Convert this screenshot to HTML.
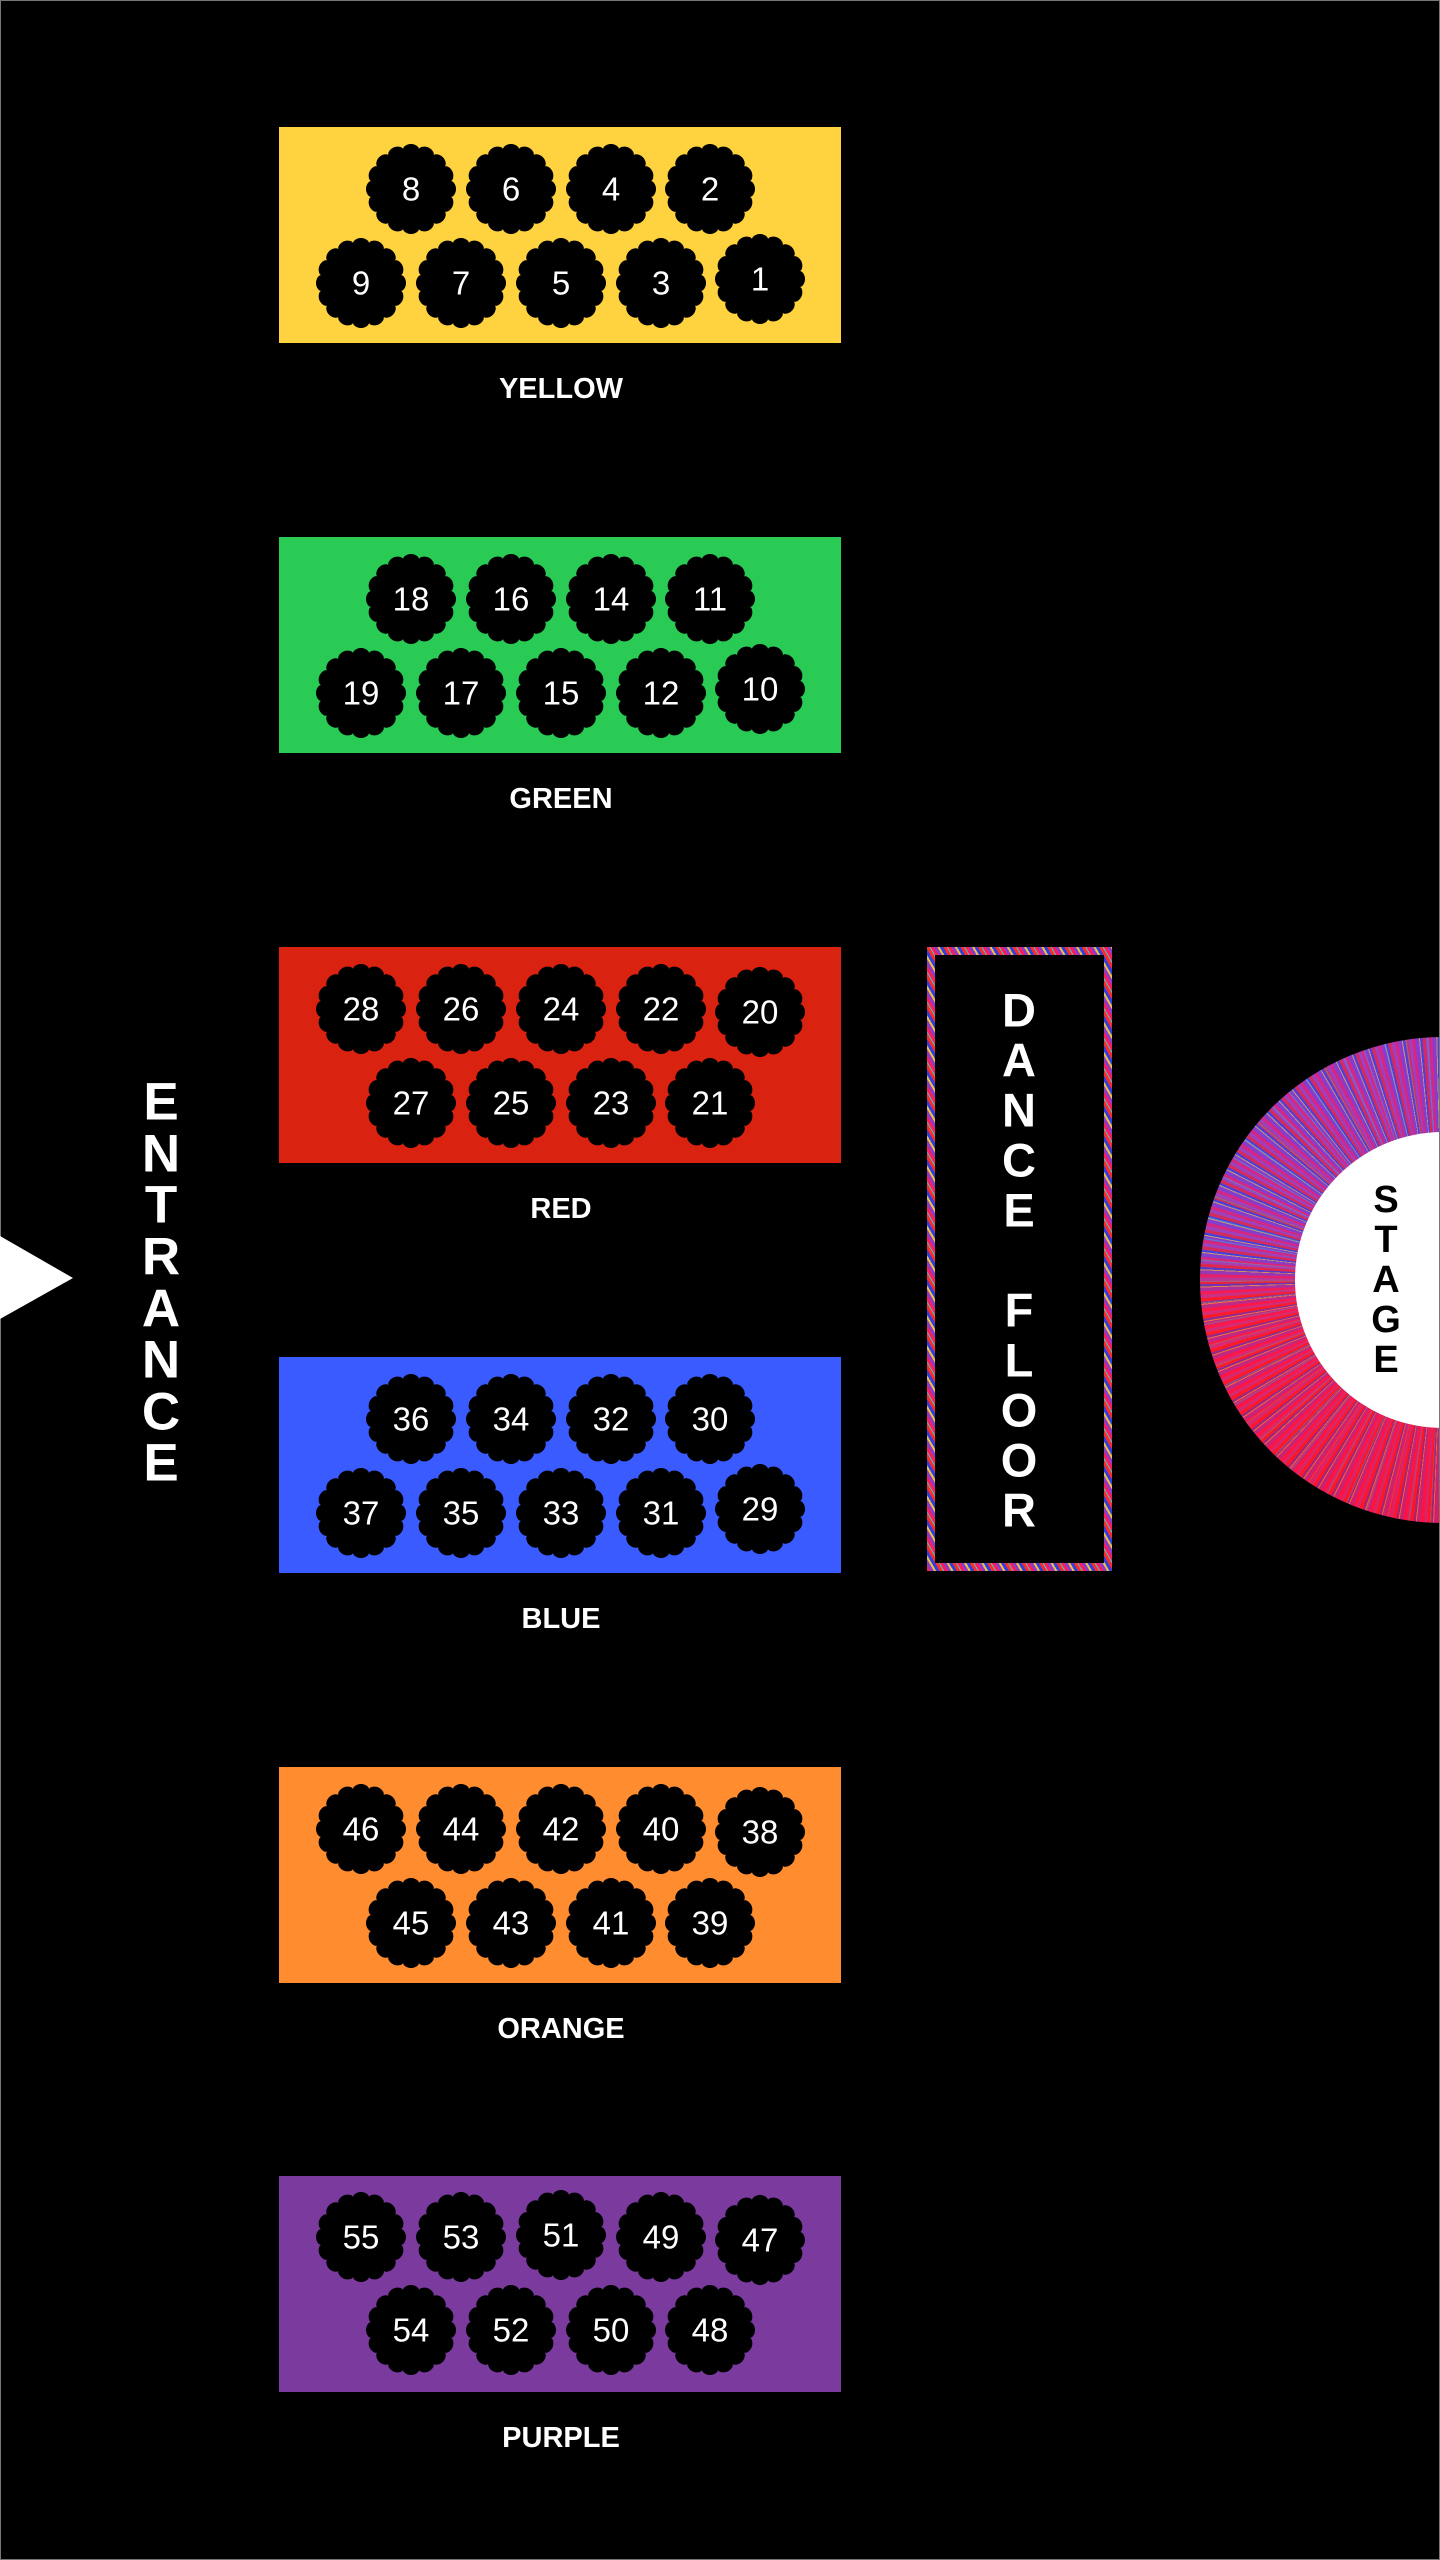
<!DOCTYPE html>
<html><head><meta charset="utf-8">
<style>
html,body{margin:0;padding:0;background:#000;}
body{width:1440px;height:2560px;overflow:hidden;position:relative;}
svg{position:absolute;left:0;top:0;}
.n{font-family:"Liberation Sans",sans-serif;font-size:33px;fill:#fff;text-anchor:middle;dominant-baseline:central;}
.lb{font-family:"Liberation Sans",sans-serif;font-size:29px;font-weight:bold;fill:#fff;text-anchor:middle;dominant-baseline:central;}
.v{font-family:"Liberation Sans",sans-serif;font-weight:bold;text-anchor:middle;dominant-baseline:central;}
#df{position:absolute;left:927px;top:947px;width:185px;height:624px;
background:repeating-linear-gradient(60deg,#ff1a5a 0 3px,#8a3cc8 3px 6px,#f0c040 6px 8px,#3040e0 8px 11px,#ff2a2a 11px 14px,#40c8c0 14px 15px);}
#dfi{position:absolute;left:8px;top:8px;right:8px;bottom:8px;background:#000;}
#ring{position:absolute;left:1200px;top:1037px;width:486px;height:486px;border-radius:50%;overflow:hidden;
background:
linear-gradient(180deg,rgba(130,60,220,0.35) 0%,rgba(110,70,220,0.3) 45%,rgba(255,20,50,0.45) 55%,rgba(255,10,40,0.55) 100%),
repeating-conic-gradient(from 3deg,rgba(0,0,0,0) 0deg 1.3deg,rgba(64,200,192,0.55) 1.3deg 1.6deg,rgba(0,0,0,0) 1.6deg 5.1deg),
repeating-conic-gradient(#ff1a5a 0deg 0.8deg,#8a3cc8 0.8deg 1.7deg,#f0c040 1.7deg 1.95deg,#3040e0 1.95deg 2.5deg,#ff2020 2.5deg 3.3deg,#b040b0 3.3deg 4.1deg);}
#inner{position:absolute;left:1295px;top:1132px;width:296px;height:296px;border-radius:50%;background:#fff;}
</style></head><body>
<div id="df"><div id="dfi"></div></div>
<div id="ring"></div>
<div id="inner"></div>
<svg width="1440" height="2560" viewBox="0 0 1440 2560">
<defs><path id="seal" d=""/></defs>
<rect x="0.5" y="0.5" width="1439" height="2559" fill="none" stroke="#777" stroke-width="1"/>
<polygon points="0,1236 73,1278 0,1319" fill="#fff"/>
<g class="v" fill="#fff" font-size="53">
<text x="161" y="1102">E</text><text x="161" y="1154">N</text><text x="161" y="1205">T</text><text x="161" y="1257">R</text><text x="161" y="1309">A</text><text x="161" y="1360">N</text><text x="161" y="1412">C</text><text x="161" y="1463">E</text>
</g>
<g class="v" fill="#fff" font-size="47">
<text x="1019" y="1010">D</text><text x="1019" y="1060">A</text><text x="1019" y="1110">N</text><text x="1019" y="1160">C</text><text x="1019" y="1210">E</text>
<text x="1019" y="1310">F</text><text x="1019" y="1360">L</text><text x="1019" y="1410">O</text><text x="1019" y="1460">O</text><text x="1019" y="1510">R</text>
</g>
<g class="v" fill="#000" font-size="38">
<text x="1386" y="1200">S</text><text x="1386" y="1240">T</text><text x="1386" y="1280">A</text><text x="1386" y="1320">G</text><text x="1386" y="1360">E</text>
</g>

<!-- YELLOW -->
<rect x="279" y="127" width="562" height="216" fill="#FFD23F"/>
<g transform="translate(0,127)">
<use href="#seal" x="411" y="62"/><use href="#seal" x="511" y="62"/><use href="#seal" x="611" y="62"/><use href="#seal" x="710" y="62"/>
<use href="#seal" x="361" y="156"/><use href="#seal" x="461" y="156"/><use href="#seal" x="561" y="156"/><use href="#seal" x="661" y="156"/><use href="#seal" x="760" y="152"/>
<text class="n" x="411" y="62">8</text><text class="n" x="511" y="62">6</text><text class="n" x="611" y="62">4</text><text class="n" x="710" y="62">2</text>
<text class="n" x="361" y="156">9</text><text class="n" x="461" y="156">7</text><text class="n" x="561" y="156">5</text><text class="n" x="661" y="156">3</text><text class="n" x="760" y="152">1</text>
<text class="lb" x="561" y="262">YELLOW</text>
</g>

<!-- GREEN -->
<rect x="279" y="537" width="562" height="216" fill="#2ACB55"/>
<g transform="translate(0,537)">
<use href="#seal" x="411" y="62"/><use href="#seal" x="511" y="62"/><use href="#seal" x="611" y="62"/><use href="#seal" x="710" y="62"/>
<use href="#seal" x="361" y="156"/><use href="#seal" x="461" y="156"/><use href="#seal" x="561" y="156"/><use href="#seal" x="661" y="156"/><use href="#seal" x="760" y="152"/>
<text class="n" x="411" y="62">18</text><text class="n" x="511" y="62">16</text><text class="n" x="611" y="62">14</text><text class="n" x="710" y="62">11</text>
<text class="n" x="361" y="156">19</text><text class="n" x="461" y="156">17</text><text class="n" x="561" y="156">15</text><text class="n" x="661" y="156">12</text><text class="n" x="760" y="152">10</text>
<text class="lb" x="561" y="262">GREEN</text>
</g>

<!-- RED -->
<rect x="279" y="947" width="562" height="216" fill="#D9220F"/>
<g transform="translate(0,947)">
<use href="#seal" x="361" y="62"/><use href="#seal" x="461" y="62"/><use href="#seal" x="561" y="62"/><use href="#seal" x="661" y="62"/><use href="#seal" x="760" y="65"/>
<use href="#seal" x="411" y="156"/><use href="#seal" x="511" y="156"/><use href="#seal" x="611" y="156"/><use href="#seal" x="710" y="156"/>
<text class="n" x="361" y="62">28</text><text class="n" x="461" y="62">26</text><text class="n" x="561" y="62">24</text><text class="n" x="661" y="62">22</text><text class="n" x="760" y="65">20</text>
<text class="n" x="411" y="156">27</text><text class="n" x="511" y="156">25</text><text class="n" x="611" y="156">23</text><text class="n" x="710" y="156">21</text>
<text class="lb" x="561" y="262">RED</text>
</g>

<!-- BLUE -->
<rect x="279" y="1357" width="562" height="216" fill="#3A5BFF"/>
<g transform="translate(0,1357)">
<use href="#seal" x="411" y="62"/><use href="#seal" x="511" y="62"/><use href="#seal" x="611" y="62"/><use href="#seal" x="710" y="62"/>
<use href="#seal" x="361" y="156"/><use href="#seal" x="461" y="156"/><use href="#seal" x="561" y="156"/><use href="#seal" x="661" y="156"/><use href="#seal" x="760" y="152"/>
<text class="n" x="411" y="62">36</text><text class="n" x="511" y="62">34</text><text class="n" x="611" y="62">32</text><text class="n" x="710" y="62">30</text>
<text class="n" x="361" y="156">37</text><text class="n" x="461" y="156">35</text><text class="n" x="561" y="156">33</text><text class="n" x="661" y="156">31</text><text class="n" x="760" y="152">29</text>
<text class="lb" x="561" y="262">BLUE</text>
</g>

<!-- ORANGE -->
<rect x="279" y="1767" width="562" height="216" fill="#FF8C2F"/>
<g transform="translate(0,1767)">
<use href="#seal" x="361" y="62"/><use href="#seal" x="461" y="62"/><use href="#seal" x="561" y="62"/><use href="#seal" x="661" y="62"/><use href="#seal" x="760" y="65"/>
<use href="#seal" x="411" y="156"/><use href="#seal" x="511" y="156"/><use href="#seal" x="611" y="156"/><use href="#seal" x="710" y="156"/>
<text class="n" x="361" y="62">46</text><text class="n" x="461" y="62">44</text><text class="n" x="561" y="62">42</text><text class="n" x="661" y="62">40</text><text class="n" x="760" y="65">38</text>
<text class="n" x="411" y="156">45</text><text class="n" x="511" y="156">43</text><text class="n" x="611" y="156">41</text><text class="n" x="710" y="156">39</text>
<text class="lb" x="561" y="262">ORANGE</text>
</g>

<!-- PURPLE -->
<rect x="279" y="2176" width="562" height="216" fill="#7A3A9E"/>
<g transform="translate(0,2176)">
<use href="#seal" x="361" y="61"/><use href="#seal" x="461" y="61"/><use href="#seal" x="561" y="59"/><use href="#seal" x="661" y="61"/><use href="#seal" x="760" y="64"/>
<use href="#seal" x="411" y="154"/><use href="#seal" x="511" y="154"/><use href="#seal" x="611" y="154"/><use href="#seal" x="710" y="154"/>
<text class="n" x="361" y="61">55</text><text class="n" x="461" y="61">53</text><text class="n" x="561" y="59">51</text><text class="n" x="661" y="61">49</text><text class="n" x="760" y="64">47</text>
<text class="n" x="411" y="154">54</text><text class="n" x="511" y="154">52</text><text class="n" x="611" y="154">50</text><text class="n" x="710" y="154">48</text>
<text class="lb" x="561" y="262">PURPLE</text>
</g>
</svg>
<script>
(function(){
  var pts=[],steps=256;
  for(var i=0;i<steps;i++){
    var a=i/steps*Math.PI*2;
    var r=41+4*Math.pow(Math.abs(Math.cos(a*8)),0.6);
    pts.push((r*Math.sin(a)).toFixed(2)+","+(-r*Math.cos(a)).toFixed(2));
  }
  document.getElementById('seal').setAttribute('d','M'+pts.join('L')+'Z');
})();
</script>
</body></html>
